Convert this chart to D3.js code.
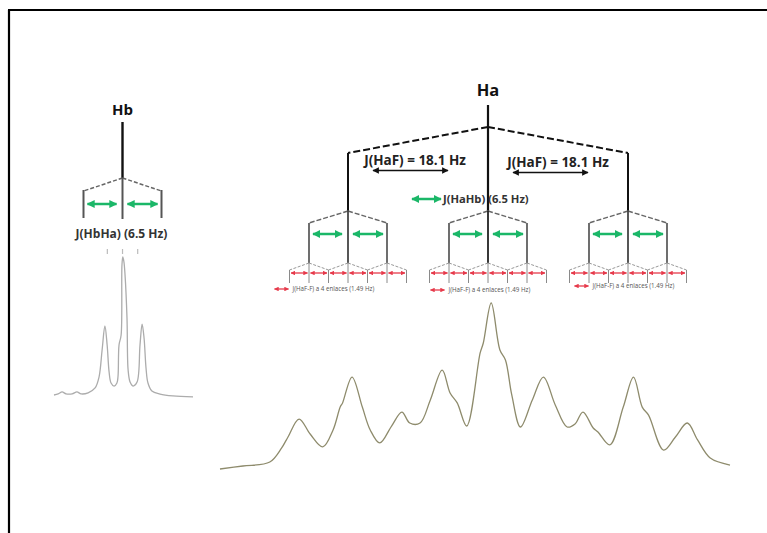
<!DOCTYPE html>
<html><head><meta charset="utf-8">
<script src="https://cdn.jsdelivr.net/npm/d3@7"></script>
<style>body{margin:0;background:#fff}svg{display:block}text{font-family:"Open Sans",sans-serif}</style>
</head><body><svg id="c" width="767" height="533"></svg>
<script>
// ---------------- DATA ----------------
// Hb experimental spectrum (offset in Hz from Hb centre, relative intensity %)
const hbSpecHz  = [-24.5,-23.0,-21.6,-20.2,-18.0,-16.3,-14.8,-12.3,-9.8,-8.4,-7.3,-6.3,-5.5,-4.8,-4.1,-3.0,-2.0,-1.6,-1.25,-0.5,-0.2,0.1,0.5,0.9,1.6,2.0,2.7,3.75,5.2,6.25,7.0,7.7,8.4,9.1,10.5,13.4,18.0,25.2];
const hbSpecInt = [0,0.8,2.2,0.8,0.8,2.2,0.8,1.6,5.1,13.0,32.6,50.0,36.2,16.7,8.7,6.5,8.7,13.8,36.2,43.5,94.2,100,96.4,87.0,55.8,18.1,9.4,6.5,9.4,36.2,51.4,41.3,19.6,8.7,2.9,0.7,-0.7,-1.4];
// Ha experimental spectrum (offset in Hz from Ha centre, relative intensity %)
const haSpecHz  = [-33.9,-31.0,-27.6,-26.1,-25.3,-23.9,-22.5,-20.9,-19.6,-18.7,-18.4,-17.2,-15.9,-14.9,-13.7,-12.2,-10.9,-9.9,-8.6,-7.3,-5.8,-4.8,-3.9,-2.7,-1.0,-0.6,0.4,1.5,2.2,3.0,4.1,5.6,7.0,8.5,10.0,11.0,12.0,13.3,13.9,15.4,17.1,18.4,19.5,20.3,22.2,23.7,25.2,26.5,28.1,30.6];
const haSpecInt = [0,1.8,4.2,12.7,19.3,30.1,21.1,13.3,23.5,37.3,39.8,55.4,37.3,23.5,15.7,25.9,34.3,27.7,27.7,41.6,59.6,45.8,39.8,25.9,69.9,75.9,100,71.7,65.7,44.6,25.3,41.6,55.4,38.6,25.3,27.1,34.3,24.7,22.3,14.5,37.3,55.4,37.3,32.5,11.4,19.3,27.7,17.5,6.6,2.4];
// Couplings (Hz)
const haCouplingsHz = [18.1, 6.5, 1.49];
const hbCouplingsHz = [6.5];
// Labels
const nucleusLabels = ["Hb", "Ha"];
const jHbHaLabel = "J(HbHa) (6.5 Hz)";
const jHaFLabel  = "J(HaF) = 18.1 Hz";
const jHaHbLabel = "J(HaHb) (6.5 Hz)";
const jHaF4Label = "J(HaF-F) a 4 enlaces (1.49 Hz)";

// ---------------- DRAW ----------------
const svg = d3.select("#c");
const GREEN = "#1bb768", RED = "#e63a4b";

const defs = svg.append("defs");
function marker(id, color, w) {
  defs.append("marker").attr("id", id).attr("viewBox", "0 0 10 10")
    .attr("refX", 9).attr("refY", 5).attr("markerWidth", w).attr("markerHeight", w)
    .attr("orient", "auto-start-reverse")
    .append("path").attr("d", "M0,0L10,5L0,10z").attr("fill", color);
}
marker("mg", GREEN, 3.2);
marker("mr", RED, 3.6);
marker("mk", "#111", 5);

function dArrow(g, x1, x2, y, color, w, m) {
  g.append("line").attr("x1", x1).attr("x2", x2).attr("y1", y).attr("y2", y)
    .attr("stroke", color).attr("stroke-width", w)
    .attr("marker-start", `url(#${m})`).attr("marker-end", `url(#${m})`);
}
function seg(g, x1, y1, x2, y2, color, w, dash) {
  const l = g.append("line").attr("x1", x1).attr("y1", y1).attr("x2", x2).attr("y2", y2)
    .attr("stroke", color).attr("stroke-width", w);
  if (dash) l.attr("stroke-dasharray", dash);
  return l;
}

// frame
seg(svg, 8, 10, 767, 10, "#000", 2);
seg(svg, 9, 10, 9, 533, "#000", 2.2);

// schematic spacing of the splitting trees (not to scale)
const spacing = d3.scaleLinear().domain([1.49, 6.5, 18.1]).range([19.5, 39, 140]);

// ---------- Hb tree ----------
const hb = svg.append("g");
const hbC = 122.5;
const hbS = spacing(hbCouplingsHz[0]);
hb.append("text").attr("x", hbC).attr("y", 115).attr("text-anchor", "middle")
  .attr("font-size", 15).attr("font-weight", 700).attr("fill", "#111").text(nucleusLabels[0]);
seg(hb, hbC, 122, hbC, 178, "#111", 2.4);
[-1, 1].forEach(s => {
  seg(hb, hbC, 178, hbC + s * hbS, 191, "#666", 1.5, "4,2");
  seg(hb, hbC + s * hbS, 190, hbC + s * hbS, 218, "#555", 2);
});
seg(hb, hbC, 178, hbC, 219, "#555", 2);
dArrow(hb, hbC - hbS + 4, hbC - 6, 204, GREEN, 2.5, "mg");
dArrow(hb, hbC + 5, hbC + hbS - 4, 204, GREEN, 2.5, "mg");
hb.append("text").attr("x", hbC - 1).attr("y", 238).attr("text-anchor", "middle")
  .attr("font-size", 12).attr("font-weight", 700).attr("fill", "#333").text(jHbHaLabel);

// Hb spectrum
const hbX = d3.scaleLinear().domain([-24.5, 25.2]).range([54, 193]);
const hbY = d3.scaleLinear().domain([0, 100]).range([395, 257]);
[-6.5, 0, 6.5].forEach(h => seg(svg, hbX(h) - 3 * Math.sign(h), 249, hbX(h) - 3 * Math.sign(h), 254, "#bbb", 1.2));
svg.append("path").datum(d3.zip(hbSpecHz, hbSpecInt))
  .attr("d", d3.line().x(d => hbX(d[0])).y(d => hbY(d[1])).curve(d3.curveCatmullRom.alpha(0.5)))
  .attr("fill", "none").attr("stroke", "#acacac").attr("stroke-width", 1.3);

// ---------- Ha tree ----------
const ha = svg.append("g");
const haC = 488;
const Y = {top: 105, a1: 127, e1: 153, a2: 211, e2: 223, a3: 263, e3: 270, bot: 283};
const s1 = spacing(haCouplingsHz[0]), s2 = spacing(haCouplingsHz[1]), s3 = spacing(haCouplingsHz[2]);
const L1 = [-s1, 0, s1].map(d => haC + d);
const L2 = L1.map(p => [-s2, 0, s2].map(d => p + d));

ha.append("text").attr("x", haC).attr("y", 96).attr("text-anchor", "middle")
  .attr("font-size", 16.5).attr("font-weight", 700).attr("fill", "#111").text(nucleusLabels[1]);
seg(ha, haC, Y.top, haC, Y.a2, "#111", 2.2);
[-1, 1].forEach(s => {
  seg(ha, haC, Y.a1, haC + s * s1, Y.e1, "#111", 2, "7,3");
  seg(ha, haC + s * s1, Y.e1, haC + s * s1, Y.a2, "#111", 2);
});
// J(HaF) labels
[-1, 1].forEach((s, i) => {
  const mid = haC + s * s1 / 2;
  ha.append("text").attr("x", mid - (i ? 0 : 3)).attr("y", i ? 167 : 165).attr("text-anchor", "middle")
    .attr("font-size", 13.5).attr("font-weight", 700).attr("fill", "#222").text(jHaFLabel);
  dArrow(ha, mid - 45, mid + 30, i ? 172.5 : 170.5, "#111", 1.3, "mk");
});
// J(HaHb) legend
dArrow(ha, haC - 76, haC - 47, 199, GREEN, 2.5, "mg");
ha.append("text").attr("x", haC - 45).attr("y", 203).attr("font-size", 11.2)
  .attr("font-weight", 700).attr("fill", "#333").text(jHaHbLabel);

// level 2
L1.forEach(p => {
  [-1, 1].forEach(s => {
    seg(ha, p, Y.a2, p + s * s2, Y.e2, "#666", 1.4, "5,2");
    seg(ha, p + s * s2, Y.e2, p + s * s2, Y.a3, "#555", 1.7);
  });
  seg(ha, p, Y.a2, p, Y.a3, p === haC ? "#222" : "#444", 1.8);
  dArrow(ha, p - s2 + 4, p - 6, 234, GREEN, 2.5, "mg");
  dArrow(ha, p + 5, p + s2 - 4, 234, GREEN, 2.5, "mg");
});

// level 3
const legendDx = [-15, 1, 5], legendDy = [289, 290, 286];
L2.forEach((grp, gi) => {
  const lines = new Set();
  grp.forEach(p => {
    [-1, 1].forEach(s => {
      seg(ha, p, Y.a3, p + s * s3, Y.e3, "#999", 1, "3,1.5");
      lines.add(Math.round((p + s * s3) * 10) / 10);
    });
    lines.add(Math.round(p * 10) / 10);
  });
  const xs = Array.from(lines).sort((a, b) => a - b);
  xs.forEach(x => seg(ha, x, Y.a3 + (grp.includes(x) ? 0 : 7), x, Y.bot, "#8a8a8a", 1));
  for (let i = 0; i < xs.length - 1; i++) dArrow(ha, xs[i] + 1.5, xs[i + 1] - 1.5, 273, RED, 1.3, "mr");
  const lx = xs[0] + legendDx[gi];
  dArrow(ha, lx, lx + 14, legendDy[gi], RED, 1.3, "mr");
  ha.append("text").attr("x", lx + 18).attr("y", legendDy[gi] + 2).attr("font-size", 6.2)
    .attr("fill", "#555").text(jHaF4Label);
});

// Ha spectrum
const haX = d3.scaleLinear().domain([-33.9, 30.6]).range([220, 730]);
const haY = d3.scaleLinear().domain([0, 100]).range([469, 303]);
svg.append("path").datum(d3.zip(haSpecHz, haSpecInt))
  .attr("d", d3.line().x(d => haX(d[0])).y(d => haY(d[1])).curve(d3.curveCatmullRom.alpha(0.5)))
  .attr("fill", "none").attr("stroke", "#8e8b6c").attr("stroke-width", 1.3);
</script></body></html>
